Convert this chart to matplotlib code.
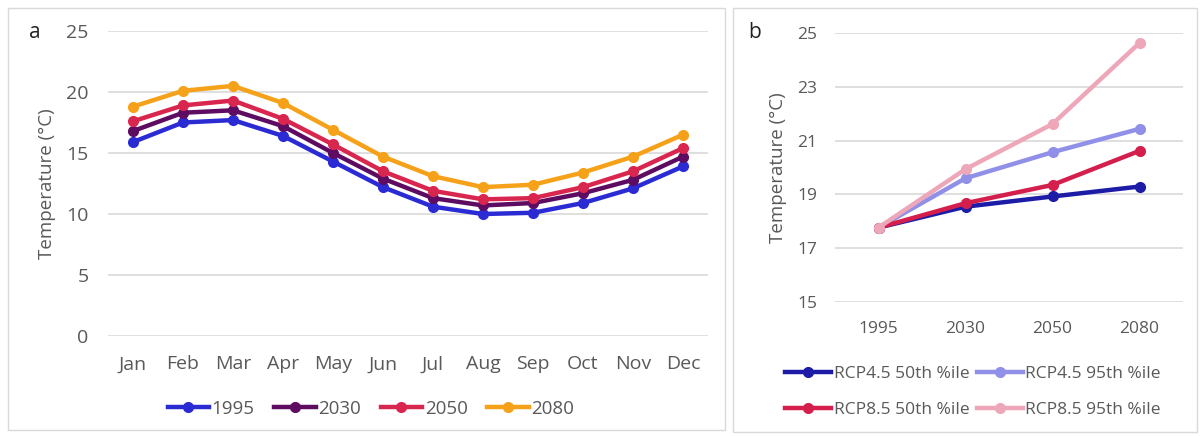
import matplotlib
matplotlib.use("Agg")
import matplotlib.pyplot as plt
from matplotlib.patches import Rectangle

# panel a - monthly mean temperature
months = ["Jan", "Feb", "Mar", "Apr", "May", "Jun", "Jul", "Aug", "Sep", "Oct", "Nov", "Dec"]
t1995 = [15.9, 17.5, 17.7, 16.4, 14.3, 12.2, 10.6, 10.0, 10.1, 10.9, 12.1, 13.9]
t2030 = [16.8, 18.3, 18.5, 17.2, 15.0, 12.9, 11.3, 10.7, 10.9, 11.7, 12.8, 14.7]
t2050 = [17.6, 18.9, 19.3, 17.8, 15.7, 13.5, 11.9, 11.2, 11.3, 12.2, 13.5, 15.4]
t2080 = [18.8, 20.1, 20.5, 19.1, 16.9, 14.7, 13.1, 12.2, 12.4, 13.4, 14.7, 16.5]
years_a = ["1995", "2030", "2050", "2080"]

# panel b - scenario projections
years_b = ["1995", "2030", "2050", "2080"]
rcp45_50 = [17.76, 18.54, 18.92, 19.29]
rcp45_95 = [17.76, 19.60, 20.57, 21.44]
rcp85_50 = [17.76, 18.67, 19.35, 20.62]
rcp85_95 = [17.76, 19.94, 21.62, 24.64]
labels_b = ["RCP4.5 50th %ile", "RCP4.5 95th %ile", "RCP8.5 50th %ile", "RCP8.5 95th %ile"]

plt.rcParams['font.family'] = ['Open Sans', 'DejaVu Sans']
TXT = '#595959'
GRID = '#d9d9d9'

fig = plt.figure(figsize=(12.02, 4.36), dpi=100)

# panel frames
fig.patches.append(Rectangle((8 / 1202, 6 / 436), 717 / 1202, 422 / 436, transform=fig.transFigure,
                             fill=False, edgecolor=GRID, lw=1))
fig.patches.append(Rectangle((733 / 1202, 4 / 436), 464 / 1202, 424 / 436, transform=fig.transFigure,
                             fill=False, edgecolor=GRID, lw=1))

ax1 = fig.add_axes([108 / 1202, 1 - 336 / 436, 600 / 1202, 305 / 436])
ax2 = fig.add_axes([835 / 1202, 1 - 301.7 / 436, 348 / 1202, 268.4 / 436])


def style(ax, size):
    for s in ax.spines.values():
        s.set_visible(False)
    ax.tick_params(length=0, labelsize=size, colors=TXT)
    ax.grid(axis='y', color=GRID, lw=1.2)
    ax.set_axisbelow(True)


# panel a
cols_a = ['#2b2bd4', '#5e0c62', '#d9264f', '#f5a21a']
x = range(len(months))
for vals, c, lab in zip([t1995, t2030, t2050, t2080], cols_a, years_a):
    ax1.plot(x, vals, color=c, lw=3.2, marker='o', ms=7, label=lab, solid_joinstyle='round')
ax1.set_xlim(-0.5, len(months) - 0.5)
ax1.set_ylim(0, 25)
ax1.set_yticks([0, 5, 10, 15, 20, 25])
ax1.set_xticks(list(x))
ax1.set_xticklabels(months)
style(ax1, 14)
ax1.tick_params(axis='x', pad=14)
ax1.tick_params(axis='y', pad=14)
ax1.set_ylabel('Temperature (°C)', color=TXT, fontsize=13.5)
ax1.yaxis.set_label_coords(-0.087, 0.5)
fig.text(35 / 1202, 1 - 33 / 436, 'a', fontsize=15, color='#222222', va='center', ha='center')
fig.legend(*ax1.get_legend_handles_labels(), loc='center', bbox_to_anchor=(371 / 1202, 1 - 409 / 436),
           ncol=4, frameon=False, fontsize=13.5, handlelength=2.2, handletextpad=0.15,
           columnspacing=1.05, labelcolor=TXT)

# panel b
cols_b = ['#1c1ca6', '#9090e8', '#d41f4d', '#eea6b9']
xb = range(len(years_b))
for vals, c, lab in zip([rcp45_50, rcp45_95, rcp85_50, rcp85_95], cols_b, labels_b):
    ax2.plot(xb, vals, color=c, lw=3.2, marker='o', ms=7, label=lab, solid_joinstyle='round')
ax2.set_xlim(-0.5, len(years_b) - 0.5)
ax2.set_ylim(15, 25)
ax2.set_yticks([15, 17, 19, 21, 23, 25])
ax2.set_xticks(list(xb))
ax2.set_xticklabels(years_b)
style(ax2, 12.5)
ax2.tick_params(axis='x', pad=14)
ax2.tick_params(axis='y', pad=13)
ax2.set_ylabel('Temperature (°C)', color=TXT, fontsize=13.5)
ax2.yaxis.set_label_coords(-0.138, 0.5)
fig.text(755 / 1202, 1 - 33 / 436, 'b', fontsize=15, color='#222222', va='center', ha='center')
# legend rows: RCP4.5 on top, RCP8.5 below (matplotlib fills column-wise)
h, l = ax2.get_legend_handles_labels()
order = [0, 2, 1, 3]
fig.legend([h[i] for i in order], [l[i] for i in order], loc='center',
           bbox_to_anchor=(973 / 1202, 1 - 392 / 436),
           ncol=2, frameon=False, fontsize=12.5, handlelength=2.65, handletextpad=0.17,
           columnspacing=0.4, labelspacing=1.1, labelcolor=TXT)

fig.savefig('out.png', dpi=100)
